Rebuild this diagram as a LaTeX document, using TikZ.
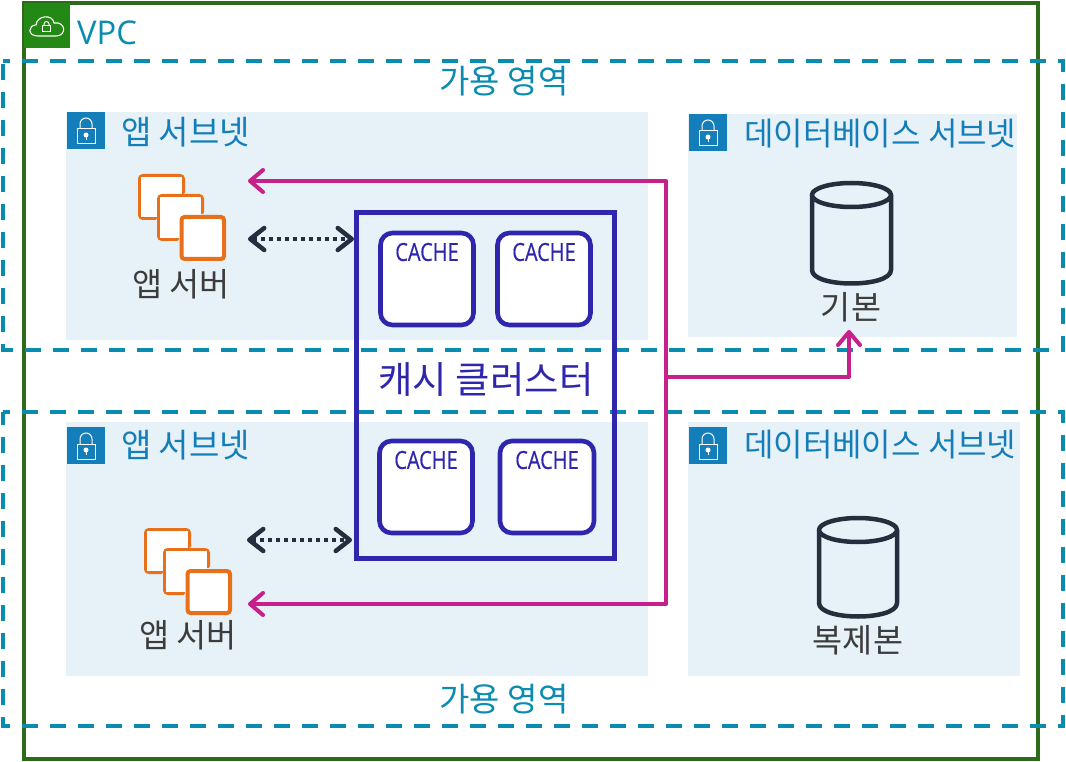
\documentclass[tikz,border=0pt]{standalone}
\usepackage{fontspec}
\setmainfont{Noto Sans CJK KR}
\newfontfamily\latinf{Open Sans}
\newfontfamily\cachef[FakeBold=0.5]{Open Sans}
\usetikzlibrary{arrows.meta,positioning}
\definecolor{vpcgreen}{HTML}{2D6B1A}
\definecolor{iconfill}{HTML}{248814}
\definecolor{azteal}{HTML}{0A8BB0}
\definecolor{subfill}{HTML}{E6F1F8}
\definecolor{lockblue}{HTML}{147EBA}
\definecolor{cacheblue}{HTML}{2E27AD}
\definecolor{pinkline}{HTML}{C7208B}
\definecolor{darkline}{HTML}{232F3E}
\definecolor{orangeline}{HTML}{E8701A}
\definecolor{greytext}{HTML}{3C3C3C}
\tikzset{
  x=1pt,y=-1pt,
  subnet/.style={fill=subfill,draw=none},
  az/.style={draw=azteal,line width=4pt,dash pattern=on 16pt off 12pt,dash phase=9pt},
  bluelabel/.style={text=lockblue,font=\fontsize{33}{36}\selectfont,inner sep=0pt},
  dblabel/.style={text=lockblue,font=\fontsize{32}{36}\selectfont,inner sep=0pt},
  tealabel/.style={text=azteal,font=\fontsize{33}{36}\selectfont,inner sep=0pt},
  greylabel/.style={text=greytext,font=\fontsize{32.7}{36}\selectfont,inner sep=0pt},
  cachebox/.style={draw=cacheblue,line width=4.6pt,fill=white,rounded corners=12pt,minimum width=93pt,minimum height=92pt,inner sep=0pt},
  cachetext/.style={text=cacheblue,font=\cachef\fontsize{25}{28}\selectfont,inner sep=0pt,xscale=0.8},
  pinkarrow/.style={draw=pinkline,line width=4pt,line join=round,-{Straight Barb[length=13pt,width=22pt,line width=4pt,round]}},
  dotarrow/.style={draw=darkline,line width=4.5pt,dash pattern=on 4pt off 4pt,{Straight Barb[length=14pt,width=22pt,line width=4.5pt,round]}-{Straight Barb[length=14pt,width=22pt,line width=4.5pt,round]}},
  srv/.style={draw=orangeline,line width=4pt,rounded corners=3pt,fill=white},
  dbl/.style={draw=darkline,line width=4.5pt,line join=round}
}
\newcommand{\lockicon}[2]{%
  \fill[lockblue] (#1,#2) rectangle ++(38,37);
  \draw[white,line width=1pt] (#1+10,#2+17) rectangle ++(18,15);
  \draw[white,line width=1pt] (#1+13,#2+17) -- ++(0,-5) arc[start angle=180,end angle=0,x radius=6,y radius=-6] -- ++(0,5);
  \fill[white] (#1+19,#2+23) circle[radius=2.5];
  \draw[white,line width=1pt] (#1+19,#2+24) -- ++(0,4);
}
\newcommand{\serverstack}[2]{%
  \draw[srv,line cap=round] (#1+15,#2+42) -- (#1,#2+42) -- (#1,#2) -- (#1+43,#2) -- (#1+43,#2+16);
  \fill[white] (#1+1,#2+1) rectangle (#1+42,#2+41);
  \draw[srv,line cap=round] (#1+37,#2+63) -- (#1+19,#2+63) -- (#1+19,#2+20) -- (#1+62,#2+20) -- (#1+62,#2+36);
  \fill[white] (#1+20,#2+21) rectangle (#1+61,#2+62);
  \draw[srv] (#1+41.5,#2+41) rectangle ++(42.5,42);
}
\newcommand{\dbicon}[4]{% x centre, y top, halfwidth, height
  \draw[dbl,fill=subfill] (#1-#3,#2+13) -- (#1-#3,#2+#4-14)
     .. controls (#1-#3,#2+#4+4) and (#1+#3,#2+#4+4) .. (#1+#3,#2+#4-14) -- (#1+#3,#2+13);
  \draw[dbl,fill=subfill] (#1,#2+13) ellipse[x radius=#3,y radius=12];
}
\begin{document}
\begin{tikzpicture}
\useasboundingbox (0,0) rectangle (1066,762);
\fill[white] (0,0) rectangle (1066,762);
% subnets
\path[subnet] (66,112) rectangle (648,340);
\path[subnet] (688,114) rectangle (1017,337);
\path[subnet] (66,422) rectangle (648,676);
\path[subnet] (688,422) rectangle (1020,676);
% VPC
\draw[vpcgreen,line width=4pt] (24,3) rectangle (1038,759);
\fill[iconfill] (24,3) rectangle (70,48);
\draw[white,line width=1.1pt,line join=round] (38,36) .. controls (27,36) and (28,25) .. (36,25)
  .. controls (37,15) and (53,14) .. (54,23) .. controls (66,21) and (67,36) .. (56,36) -- cycle;
\draw[white,line width=1pt] (42.5,26) rectangle (50.5,32);
\draw[white,line width=1pt] (44,26) -- (44,24) arc[start angle=180,end angle=0,x radius=2.5,y radius=-2.5] -- (49,26);
\node[tealabel,anchor=west,font=\latinf\fontsize{32.7}{36}\selectfont] (vpc) at (77,33) {VPC};
% availability zones
\draw[az] (3,61) -- (1063,61) -- (1063,350) -- (3,350) -- cycle;
\draw[az] (3,412) -- (1063,412) -- (1063,726) -- (3,726) -- cycle;
\node[tealabel] (az1) at (504,81) {가용 영역};
\node[tealabel] (az2) at (504,699) {가용 영역};
% subnet icons and labels
\lockicon{67}{112}
\lockicon{689}{114}
\lockicon{67}{427}
\lockicon{689}{427}
\node[bluelabel,anchor=west] (s1) at (121,132) {앱 서브넷};
\node[bluelabel,anchor=west] (s2) at (121,445) {앱 서브넷};
\node[dblabel,anchor=west] (d1) at (744,134) {데이터베이스 서브넷};
\node[dblabel,anchor=west] (d2) at (744,445) {데이터베이스 서브넷};
% servers
\serverstack{140}{176}
\serverstack{146}{530}
\node[greylabel] (srv1) at (181,284) {앱 서버};
\node[greylabel] (srv2) at (188,635) {앱 서버};
\coordinate (srv1a) at (248,181);
\coordinate (srv1b) at (248,239);
\coordinate (srv2a) at (248,604);
\coordinate (srv2b) at (247,540);
% databases
\dbicon{851.5}{182}{39.5}{102}
\dbicon{858}{517}{39}{100}
\node[greylabel] (pri) at (851,307) {기본};
\node[greylabel] (rep) at (858,640) {복제본};
% cache cluster
\node[draw=cacheblue,line width=5pt,minimum width=258pt,minimum height=345pt,inner sep=0pt] (cluster) at (485.5,385.5) {};
\node[cachebox] (c1) at (427,279) {};
\node[cachebox] (c2) at (544,279) {};
\node[cachebox] (c3) at (426,487) {};
\node[cachebox,minimum width=94pt] (c4) at (547,487) {};
\node[cachetext] at (427,252) {CACHE};
\node[cachetext] at (544,252) {CACHE};
\node[cachetext] at (426,460) {CACHE};
\node[cachetext] at (547,460) {CACHE};
\node[text=cacheblue,font=\fontsize{37.4}{40}\selectfont,inner sep=0pt] (clabel) at (486,380) {캐시 클러스터};
% connectors
\coordinate (junc) at (666,377);
\coordinate (top) at (666,181);
\coordinate (bot) at (666,604);
\coordinate (dbin) at (849,330);
\coordinate (dbbend) at (849,377);
\coordinate (c1in) at (354,239);
\coordinate (c3in) at (352,540);
\draw[pinkarrow] (junc) -- (top) -- (srv1a);
\draw[pinkarrow] (junc) -- (bot) -- (srv2a);
\draw[pinkarrow] (junc) -- (dbbend) -- (dbin);
\draw[dotarrow] (srv1b) -- (c1in);
\draw[dotarrow] (srv2b) -- (c3in);
\end{tikzpicture}
\end{document}
